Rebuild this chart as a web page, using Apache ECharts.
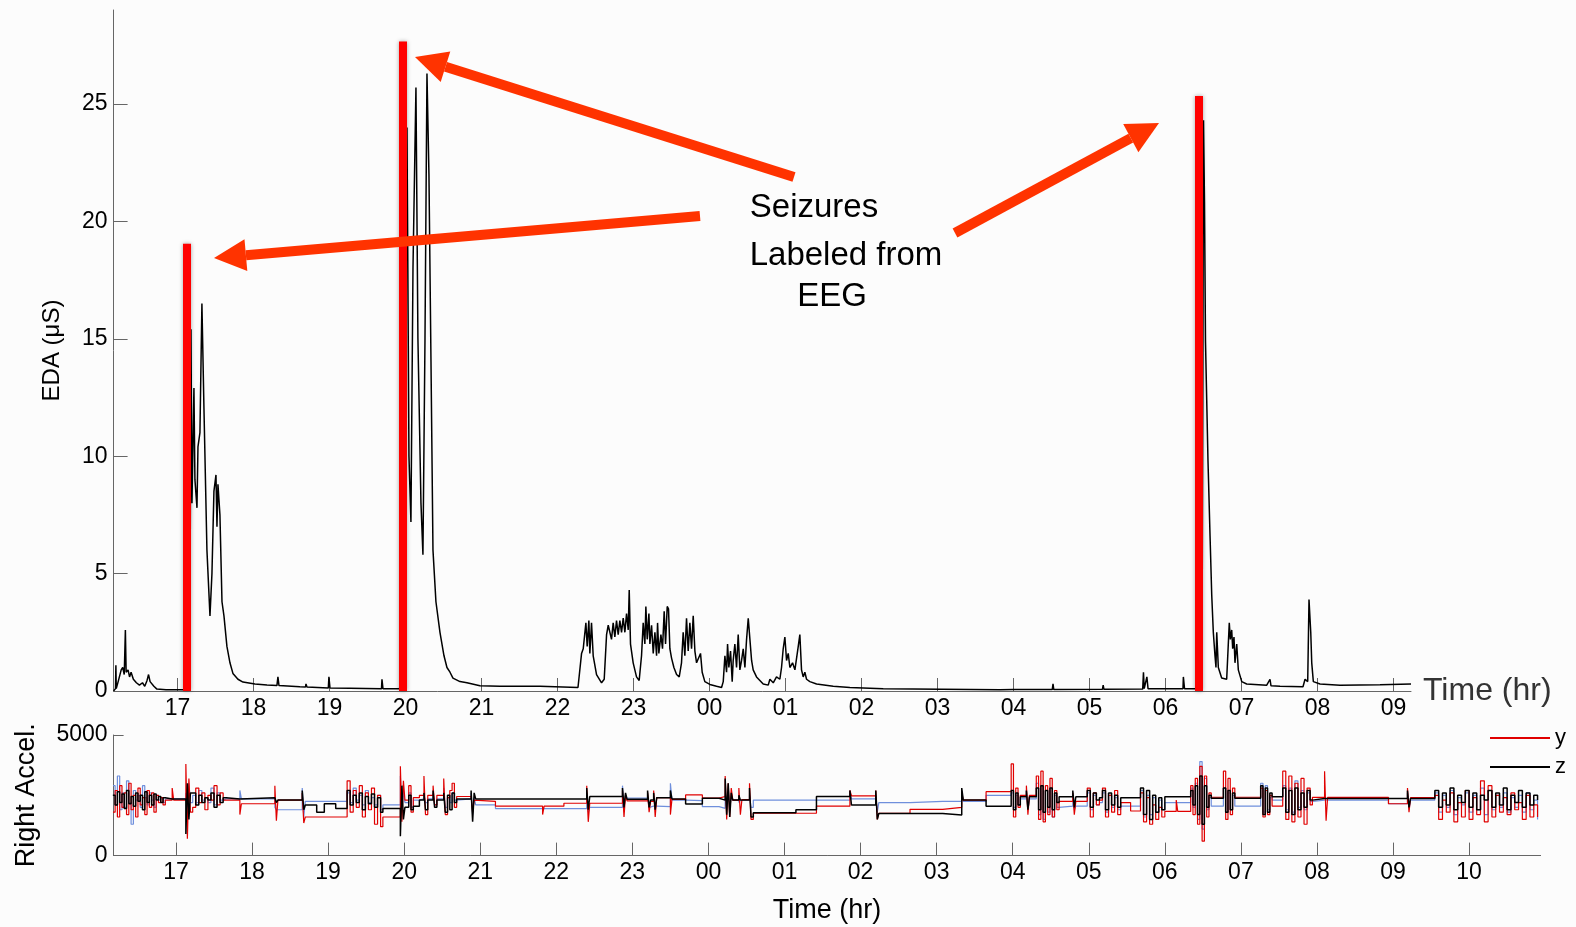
<!DOCTYPE html>
<html>
<head>
<meta charset="utf-8">
<title>EDA and accelerometer with seizures</title>
<script src="https://cdn.jsdelivr.net/npm/echarts@6/dist/echarts.min.js"></script>
<style>
  html, body { margin: 0; padding: 0; background: #fcfcfc; }
  #chart { width: 1576px; height: 927px; }
</style>
</head>
<body>
<div id="chart"></div>
<script>
// time is in hours since midnight of the first day (24 = 00, 33 = 09 next morning)
const topHourTicks = [17, 18, 19, 20, 21, 22, 23, 24, 25, 26, 27, 28, 29, 30, 31, 32, 33];
const bottomHourTicks = [17, 18, 19, 20, 21, 22, 23, 24, 25, 26, 27, 28, 29, 30, 31, 32, 33, 34];
const edaTicks = [0, 5, 10, 15, 20, 25];
const accelTicks = [0, 5000];

// seizures labeled from EEG: onset time and height of the marker
const seizureTimes = [17.125, 19.967, 30.441];
const seizureMarkHeights = [19.05, 27.66, 25.34];

// EDA (uS): [hour, value]
const edaSamples = [
  [16.16, 0.0], [16.185, 0.1], [16.19, 1.1], [16.195, 0.1], [16.22, 0.4], [16.26, 0.9], [16.28, 1.0],
  [16.30, 0.7], [16.315, 2.6], [16.325, 0.8], [16.35, 0.9], [16.37, 0.6], [16.39, 0.8], [16.42, 0.5],
  [16.46, 0.35], [16.5, 0.25], [16.54, 0.35], [16.57, 0.2], [16.6, 0.45], [16.62, 0.7], [16.64, 0.4],
  [16.66, 0.45], [16.69, 0.2], [16.73, 0.08], [16.85, 0.05], [17.099, 0.05],
  // first seizure
  [17.151, 0.1], [17.164, 2.1], [17.178, 15.4], [17.191, 8], [17.217, 12.9], [17.23, 9], [17.257, 7.8],
  [17.27, 10.4], [17.296, 11], [17.322, 16.5], [17.349, 12], [17.388, 6], [17.428, 3.2], [17.454, 5],
  [17.48, 8.5], [17.507, 9.2], [17.52, 7], [17.533, 8.8], [17.559, 7.5], [17.586, 3.8], [17.612, 3.2],
  [17.651, 1.9], [17.691, 1.2], [17.73, 0.75], [17.796, 0.5], [17.862, 0.38], [18.02, 0.3], [18.178, 0.26],
  [18.309, 0.23], [18.322, 0.6], [18.336, 0.23], [18.612, 0.18], [18.685, 0.17], [18.691, 0.3], [18.704, 0.17],
  [18.985, 0.13], [18.993, 0.6], [19.007, 0.13], [19.27, 0.12], [19.685, 0.1], [19.691, 0.5], [19.704, 0.1],
  [19.914, 0.1],
  // second seizure
  [19.967, 0.2], [19.993, 18], [20.02, 24.0], [20.046, 10], [20.072, 7.2], [20.099, 18], [20.138, 25.7],
  [20.164, 15], [20.204, 8], [20.23, 5.8], [20.257, 15], [20.283, 26.3], [20.309, 22], [20.336, 14],
  [20.362, 6.0], [20.401, 3.8], [20.454, 2.5], [20.507, 1.5], [20.546, 1.0], [20.586, 0.8], [20.625, 0.55],
  [20.717, 0.4], [20.809, 0.35], [20.98, 0.22], [21.243, 0.2], [21.77, 0.2], [22.27, 0.15],
  // night activity
  [22.273, 0.18], [22.317, 1.6], [22.339, 1.8], [22.374, 2.9], [22.391, 1.9], [22.413, 3.0], [22.426, 1.6],
  [22.448, 2.9], [22.47, 1.5], [22.514, 0.7], [22.58, 0.35], [22.615, 0.5], [22.646, 2.4], [22.668, 2.8],
  [22.711, 2.2], [22.733, 2.9], [22.755, 2.3], [22.777, 3.0], [22.799, 2.4], [22.821, 3.0], [22.843, 2.5],
  [22.865, 3.1], [22.887, 2.5], [22.909, 3.3], [22.931, 2.6], [22.944, 4.3], [22.961, 2.0], [22.996, 1.2],
  [23.04, 0.6], [23.075, 0.45], [23.106, 1.5], [23.128, 2.9], [23.15, 2.0], [23.163, 3.6], [23.181, 2.2],
  [23.203, 3.3], [23.216, 2.0], [23.238, 2.8], [23.26, 1.6], [23.282, 2.5], [23.304, 1.5], [23.317, 2.9],
  [23.334, 1.6], [23.361, 2.4], [23.382, 1.8], [23.404, 3.4], [23.422, 2.0], [23.444, 3.6], [23.461, 3.5],
  [23.479, 1.8], [23.501, 1.4], [23.532, 1.0], [23.567, 0.7], [23.602, 0.6], [23.632, 1.2], [23.654, 2.5],
  [23.676, 1.5], [23.698, 3.1], [23.72, 1.7], [23.742, 2.9], [23.764, 1.8], [23.786, 3.2], [23.808, 1.7],
  [23.83, 1.2], [23.882, 1.6], [23.904, 0.8], [23.939, 0.4], [24.005, 0.28], [24.093, 0.2], [24.159, 0.15],
  [24.181, 0.4], [24.203, 1.5], [24.225, 0.8], [24.238, 2.0], [24.255, 1.0], [24.277, 1.7], [24.299, 0.4],
  [24.312, 1.3], [24.334, 2.0], [24.356, 1.0], [24.378, 2.4], [24.4, 0.9], [24.422, 1.3], [24.444, 1.8],
  [24.466, 1.0], [24.488, 2.2], [24.51, 3.1], [24.532, 2.2], [24.554, 1.3], [24.575, 0.9], [24.619, 0.6],
  [24.707, 0.3], [24.773, 0.25], [24.795, 0.5], [24.839, 0.35], [24.882, 0.6], [24.926, 0.5], [24.948, 1.0],
  [24.97, 1.8], [24.992, 2.3], [25.014, 1.3], [25.036, 1.6], [25.058, 1.0], [25.093, 1.2], [25.124, 0.9],
  [25.146, 1.4], [25.168, 1.9], [25.189, 2.4], [25.211, 0.9], [25.233, 0.6], [25.255, 0.8], [25.277, 0.5],
  [25.321, 0.4], [25.409, 0.3], [25.628, 0.2], [25.847, 0.15], [26.286, 0.1], [27.821, 0.05],
  [28.0, 0.06], [28.51, 0.06], [28.52, 0.3], [28.53, 0.06], [29.17, 0.07], [29.18, 0.25], [29.19, 0.07],
  [29.70, 0.08], [29.71, 0.8], [29.72, 0.1], [29.755, 0.6], [29.77, 0.1], [30.23, 0.1], [30.235, 0.6],
  [30.25, 0.1], [30.44, 0.1],
  // third seizure
  [30.48, 0.3], [30.5, 24.3], [30.513, 20.8], [30.526, 14.9], [30.559, 9.8], [30.586, 6.6], [30.608, 4.1],
  [30.629, 2.5], [30.651, 1.5], [30.664, 1.0], [30.674, 2.5], [30.695, 1.0], [30.739, 0.55], [30.805, 0.5],
  [30.839, 2.9], [30.853, 2.2], [30.871, 2.6], [30.884, 1.8], [30.901, 2.3], [30.914, 1.2], [30.937, 2.0],
  [30.958, 0.9], [31.003, 0.4], [31.068, 0.3], [31.332, 0.25], [31.375, 0.5], [31.388, 0.22], [31.507, 0.2],
  [31.809, 0.18], [31.836, 0.5], [31.871, 0.4], [31.888, 3.9], [31.911, 2.5], [31.924, 1.2], [31.945, 0.4],
  [32.033, 0.3], [32.296, 0.25], [32.822, 0.27], [33.23, 0.3]
];

// right wrist accelerometer: [hour, x, y, z]
const accelSamples = [
  [16.17, 2900, 1800, 2500], [16.20, 2100, 2700, 2100], [16.23, 3300, 1600, 2650], [16.26, 1900, 2900, 2200],
  [16.29, 2600, 2000, 2550], [16.32, 2000, 2600, 1950], [16.35, 3100, 1700, 2700], [16.38, 2200, 3000, 2150],
  [16.41, 1300, 1900, 2450], [16.44, 2700, 2500, 2050], [16.47, 2300, 1600, 2600], [16.50, 2500, 2800, 2250],
  [16.53, 2000, 2100, 2500], [16.56, 2900, 2400, 1900], [16.59, 2400, 1700, 2650], [16.62, 2100, 2700, 2200],
  [16.65, 2600, 2000, 2500], [16.68, 2300, 2600, 2100], [16.71, 2000, 1800, 2550], [16.74, 2500, 2500, 2300],
  [16.77, 2300, 2200, 2450], [16.80, 2400, 2400, 2200], [16.83, 2200, 2100, 2400], [16.86, 2350, 2300, 2350],
  [16.95, 2350, 2800, 2400], [16.97, 2350, 2300, 2350],
  [17.13, 2600, 3800, 900], [17.15, 2000, 700, 3000], [17.17, 3000, 3200, 1500], [17.19, 2200, 1800, 2600],
  [17.22, 2500, 2000, 2600], [17.26, 2200, 2800, 2100], [17.30, 2700, 2200, 2500], [17.34, 2300, 2600, 2200],
  [17.38, 2400, 1900, 2400], [17.42, 2200, 2500, 2300], [17.46, 2800, 2300, 2600], [17.50, 2100, 2900, 2000],
  [17.54, 2600, 2100, 2500], [17.58, 2300, 2600, 2200], [17.62, 2350, 2300, 2400], [17.66, 2350, 2300, 2350],
  [17.84, 2700, 1700, 2350], [17.86, 2350, 2150, 2400], [18.30, 2000, 2900, 2400], [18.32, 1900, 1450, 2200],
  [18.34, 1900, 2300, 2300], [18.66, 2800, 2600, 2700], [18.68, 1600, 1350, 1900], [18.70, 2250, 1600, 2100],
  [18.85, 2250, 1600, 1800], [18.95, 2250, 1600, 2150], [19.10, 2250, 1600, 1950],
  [19.25, 2600, 3100, 2700], [19.29, 2200, 1800, 2100], [19.33, 2800, 2700, 2500], [19.37, 2300, 2000, 2200],
  [19.41, 2500, 2900, 2600], [19.45, 2100, 1600, 1900], [19.49, 2700, 2600, 2450], [19.53, 2200, 1900, 2150],
  [19.57, 2400, 2800, 2550], [19.61, 2100, 1300, 2000], [19.65, 2500, 2500, 2400], [19.69, 1900, 1200, 1800],
  [19.72, 2100, 1600, 1950],
  [19.95, 3300, 3700, 800], [19.97, 1800, 1400, 2900], [19.99, 2700, 3100, 1500], [20.01, 2200, 2300, 2000],
  [20.06, 2600, 2900, 2500], [20.09, 2000, 1800, 1900], [20.12, 2300, 2400, 2050], [20.20, 2350, 2500, 2300],
  [20.26, 2500, 3300, 2600], [20.28, 2200, 1700, 1900], [20.31, 2350, 2500, 2300], [20.38, 2600, 2900, 2700],
  [20.40, 2100, 2100, 2000], [20.43, 2350, 2500, 2300], [20.52, 2800, 3200, 2600], [20.54, 2000, 1700, 1800],
  [20.57, 2400, 2400, 2500], [20.60, 2200, 2700, 1900], [20.63, 2600, 3000, 2600], [20.66, 2300, 2000, 2200],
  [20.69, 2350, 2450, 2350], [20.88, 2600, 2400, 2700], [20.90, 1700, 1800, 1400], [20.92, 2400, 2300, 2600],
  [20.94, 2100, 2250, 2350], [21.20, 1950, 2050, 2350], [21.82, 1950, 1700, 2350], [21.84, 1950, 2050, 2350],
  [22.10, 1950, 2170, 2350], [22.40, 2500, 2900, 2800], [22.42, 1800, 1400, 1900], [22.44, 2000, 2170, 2450],
  [22.87, 2900, 2700, 2800], [22.89, 2000, 1600, 2000], [22.91, 2500, 2500, 2600], [22.93, 2380, 2270, 2340],
  [23.20, 2300, 2600, 2700], [23.22, 2000, 1800, 2000], [23.24, 2050, 2250, 2300], [23.28, 2050, 2700, 2600],
  [23.30, 2050, 1600, 1900], [23.32, 2030, 2400, 2400], [23.50, 3000, 1700, 2700], [23.52, 2300, 2330, 2350],
  [23.70, 2280, 2515, 2140], [23.92, 2030, 2380, 2380], [24.14, 1960, 2450, 2300],
  [24.22, 2500, 3300, 3200], [24.24, 2000, 1500, 1700], [24.26, 2600, 3000, 3000], [24.28, 2100, 1600, 1600],
  [24.30, 2400, 2800, 2600], [24.32, 2300, 2300, 2300], [24.40, 2200, 2800, 2500], [24.42, 2300, 1700, 2300],
  [24.44, 2300, 2320, 2320], [24.54, 2500, 3000, 2800], [24.56, 2000, 1500, 1600], [24.59, 2300, 1755, 1780],
  [25.15, 2300, 1755, 1900], [25.42, 2300, 2050, 2450], [25.86, 2700, 2700, 2700], [25.88, 2350, 2480, 2100],
  [26.20, 2500, 2700, 2700], [26.22, 1800, 1500, 1500], [26.24, 2200, 1750, 1750], [26.65, 2250, 1920, 1750],
  [27.08, 2250, 2000, 1685], [27.33, 2700, 2600, 2800], [27.35, 2250, 2300, 2300], [27.65, 2500, 2650, 2050],
  [27.98, 2600, 3800, 2700], [28.01, 2000, 1600, 1900], [28.04, 2500, 2800, 2600], [28.07, 2100, 2000, 2100],
  [28.10, 2350, 2500, 2440], [28.18, 2700, 2900, 2700], [28.20, 1900, 1700, 1900], [28.22, 2350, 2500, 2440],
  [28.31, 3000, 3300, 2800], [28.34, 1700, 1500, 1900], [28.37, 2900, 3500, 2900], [28.40, 1500, 1400, 1800],
  [28.43, 2700, 2900, 2700], [28.46, 1800, 1700, 2000], [28.49, 2800, 3200, 2800], [28.52, 1600, 1600, 1900],
  [28.55, 2500, 2700, 2600], [28.58, 2000, 1900, 2200], [28.61, 2050, 2250, 2440], [28.79, 2400, 2600, 2700],
  [28.81, 1900, 1700, 2000], [28.83, 2050, 2250, 2440],
  [28.98, 2600, 2800, 2700], [29.02, 1900, 1600, 2000], [29.06, 2500, 2600, 2600], [29.10, 2100, 2100, 2300],
  [29.14, 2200, 2300, 2400], [29.18, 2600, 2800, 2700], [29.22, 1800, 1600, 1900], [29.26, 2500, 2500, 2600],
  [29.30, 2000, 1800, 2100], [29.34, 2400, 2700, 2500], [29.38, 1900, 1700, 2000], [29.42, 2050, 2200, 2400],
  [29.55, 2050, 1850, 2400],
  [29.68, 2700, 2600, 2800], [29.72, 1600, 1400, 1700], [29.76, 2500, 2400, 2700], [29.80, 1700, 1300, 1500],
  [29.84, 2400, 2100, 2500], [29.88, 1800, 1500, 1800], [29.92, 2300, 2000, 2400], [29.96, 1900, 1600, 1900],
  [30.00, 2200, 1830, 2440], [30.15, 2200, 2300, 2440], [30.17, 2200, 1830, 2440],
  [30.34, 2800, 2900, 2700], [30.37, 2000, 1700, 2100], [30.40, 3000, 3200, 2900], [30.43, 1500, 1300, 1700],
  [30.46, 3900, 3700, 3300], [30.49, 1100, 600, 1300], [30.52, 3200, 3300, 2900], [30.55, 1900, 1600, 2000],
  [30.58, 2400, 2600, 2500], [30.61, 2050, 2420, 2380],
  [30.77, 2800, 3500, 2800], [30.80, 1800, 1500, 1800], [30.83, 2600, 3200, 2700], [30.86, 1900, 1700, 1900],
  [30.89, 2500, 2800, 2600], [30.92, 2050, 2420, 2380],
  [31.26, 3000, 2800, 2900], [31.29, 1800, 1600, 1700], [31.32, 2900, 2700, 2800], [31.35, 1900, 1700, 1800],
  [31.38, 2400, 2500, 2600], [31.41, 2300, 2050, 2440],
  [31.55, 2900, 3500, 2800], [31.59, 1900, 1500, 1800], [31.63, 2800, 3300, 2700], [31.67, 1800, 1400, 1700],
  [31.71, 3100, 3000, 2800], [31.75, 2000, 1600, 1900], [31.79, 2700, 3200, 2600], [31.83, 1900, 1300, 2000],
  [31.87, 2600, 2800, 2700], [31.91, 2250, 2100, 2300], [31.94, 2300, 2410, 2370],
  [32.10, 2300, 3500, 2370], [32.12, 2300, 1450, 2370], [32.14, 2300, 2410, 2370], [32.94, 2150, 2150, 2370],
  [33.19, 2600, 2800, 2700], [33.21, 1900, 1800, 2000], [33.23, 2300, 2400, 2370],
  [33.55, 2600, 2500, 2700], [33.60, 1800, 1500, 2000], [33.65, 2500, 2300, 2600], [33.70, 2000, 1800, 2100],
  [33.75, 2700, 2600, 2800], [33.80, 1700, 1400, 1900], [33.85, 2400, 2200, 2500], [33.90, 2100, 1600, 2200],
  [33.95, 2600, 2700, 2700], [34.00, 1800, 1500, 2000], [34.05, 2500, 2400, 2600], [34.10, 1900, 1700, 1900],
  [34.15, 2800, 3100, 2500], [34.20, 1700, 1400, 2300], [34.25, 2700, 2900, 2700], [34.30, 1900, 1600, 2000],
  [34.35, 2500, 2500, 2600], [34.40, 2000, 1800, 2100], [34.45, 2600, 2400, 2800], [34.50, 1800, 1700, 1900],
  [34.55, 2400, 2600, 2500], [34.60, 2000, 1900, 2200], [34.65, 2500, 2200, 2700], [34.70, 1800, 1500, 2000],
  [34.75, 2600, 2500, 2600], [34.80, 1900, 1600, 2100], [34.85, 2300, 2100, 2500], [34.90, 1500, 1600, 2300]
];

const FONT = 'Liberation Sans, Arial, Helvetica, sans-serif';
const ARROW = '#ff3300';

const hourLabel = v => String(Math.round(v) % 24).padStart(2, '0');

const axisGray = { color: '#666', width: 1 };

// one arrow = shaft + triangular head, in page pixels (annotation only)
const arrow = (tail, base, tip, c1, c2) => [
  { type: 'line', shape: { x1: tail[0], y1: tail[1], x2: base[0], y2: base[1] },
    style: { stroke: ARROW, lineWidth: 10 }, z: 100 },
  { type: 'polygon', shape: { points: [tip, c1, c2] }, style: { fill: ARROW }, z: 100 }
];

const chart = echarts.init(document.getElementById('chart'));

chart.setOption({
  animation: false,
  backgroundColor: '#fcfcfc',
  textStyle: { fontFamily: FONT },
  grid: [
    { left: 113.6, top: 10, width: 1297.4, height: 681 },
    { left: 113.6, top: 735, width: 1427, height: 120.6 }
  ],
  legend: {
    data: ['y', 'z'],
    orient: 'vertical',
    left: 1490,
    top: 727,
    padding: 0,
    icon: 'rect',
    itemWidth: 60,
    itemHeight: 2,
    itemGap: 7,
    textStyle: { fontSize: 22, color: '#000', fontFamily: FONT }
  },
  xAxis: [
    {
      type: 'value', gridIndex: 0, min: 16.16, max: 33.23,
      axisLine: { lineStyle: axisGray },
      axisTick: { inside: true, length: 13, lineStyle: axisGray, customValues: topHourTicks },
      axisLabel: { customValues: topHourTicks, formatter: hourLabel, fontSize: 23, color: '#000', margin: 6 },
      splitLine: { show: false },
      name: 'Time (hr)', nameLocation: 'end', nameGap: 12,
      nameTextStyle: { fontSize: 32, color: '#333', fontFamily: FONT }
    },
    {
      type: 'value', gridIndex: 1, min: 16.18, max: 34.94,
      axisLine: { lineStyle: axisGray },
      axisTick: { inside: true, length: 13, lineStyle: axisGray, customValues: bottomHourTicks },
      axisLabel: { customValues: bottomHourTicks, formatter: hourLabel, fontSize: 23, color: '#000', margin: 6 },
      splitLine: { show: false },
      name: 'Time (hr)', nameLocation: 'middle', nameGap: 41,
      nameTextStyle: { fontSize: 27, color: '#000', fontFamily: FONT }
    }
  ],
  yAxis: [
    {
      type: 'value', gridIndex: 0, min: 0, max: 29,
      axisLine: { show: true, lineStyle: axisGray },
      axisTick: { show: true, inside: true, length: 14, lineStyle: axisGray, customValues: edaTicks },
      axisLabel: { customValues: edaTicks, fontSize: 23, color: '#000', margin: 6 },
      splitLine: { show: false },
      name: 'EDA (\u03bcS)', nameLocation: 'middle', nameGap: 49,
      nameTextStyle: { fontSize: 24, color: '#000', fontFamily: FONT }
    },
    {
      type: 'value', gridIndex: 1, min: 0, max: 5000,
      axisLine: { show: true, lineStyle: axisGray },
      axisTick: { show: true, inside: true, length: 10, lineStyle: axisGray, customValues: accelTicks },
      axisLabel: { customValues: accelTicks, formatter: v => String(v), fontSize: 23, color: '#000', margin: 6 },
      splitLine: { show: false },
      name: 'Right Accel.', nameLocation: 'middle', nameGap: 74,
      nameTextStyle: { fontSize: 27, color: '#000', fontFamily: FONT }
    }
  ],
  series: [
    {
      name: 'EDA', type: 'line', xAxisIndex: 0, yAxisIndex: 0,
      data: edaSamples, showSymbol: false, symbol: 'none', silent: true,
      lineStyle: { color: '#000', width: 1.5 },
      markLine: {
        silent: true, symbol: ['none', 'none'], label: { show: false },
        lineStyle: { color: '#ff0000', width: 8, type: 'solid', opacity: 1,
          shadowBlur: 4, shadowColor: 'rgba(0,0,0,0.35)' },
        emphasis: { disabled: true },
        data: seizureTimes.map((t, i) => [{ coord: [t, 0] }, { coord: [t, seizureMarkHeights[i]] }])
      },
      z: 3
    },
    {
      name: 'x', type: 'line', xAxisIndex: 1, yAxisIndex: 1, step: 'end',
      data: accelSamples.map(r => [r[0], r[1]]), showSymbol: false, symbol: 'none', silent: true,
      lineStyle: { color: '#6f8fdc', width: 1.2 }, itemStyle: { color: '#6f8fdc' }
    },
    {
      name: 'y', type: 'line', xAxisIndex: 1, yAxisIndex: 1, step: 'end',
      data: accelSamples.map(r => [r[0], r[2]]), showSymbol: false, symbol: 'none', silent: true,
      lineStyle: { color: '#e00000', width: 1.2 }, itemStyle: { color: '#e00000' }
    },
    {
      name: 'z', type: 'line', xAxisIndex: 1, yAxisIndex: 1, step: 'end',
      data: accelSamples.map(r => [r[0], r[3]]), showSymbol: false, symbol: 'none', silent: true,
      lineStyle: { color: '#000', width: 1.5 }, itemStyle: { color: '#000' }
    }
  ],
  graphic: [
    ...arrow([700, 216], [245.9, 255.2], [214, 258], [244.5, 239.3], [247.3, 271.1]),
    ...arrow([794, 177], [445.5, 66.7], [415, 57], [450.3, 51.4], [440.7, 81.9]),
    ...arrow([955, 233], [1130.8, 138.2], [1159, 123], [1138.4, 152.3], [1123.2, 124.1]),
    { type: 'text', x: 814, y: 208, z: 100,
      style: { text: 'Seizures', font: '33px ' + FONT, fill: '#000', align: 'center', verticalAlign: 'middle' } },
    { type: 'text', x: 846, y: 256, z: 100,
      style: { text: 'Labeled from', font: '33px ' + FONT, fill: '#000', align: 'center', verticalAlign: 'middle' } },
    { type: 'text', x: 832, y: 297, z: 100,
      style: { text: 'EEG', font: '33px ' + FONT, fill: '#000', align: 'center', verticalAlign: 'middle' } }
  ]
});
</script>
</body>
</html>
